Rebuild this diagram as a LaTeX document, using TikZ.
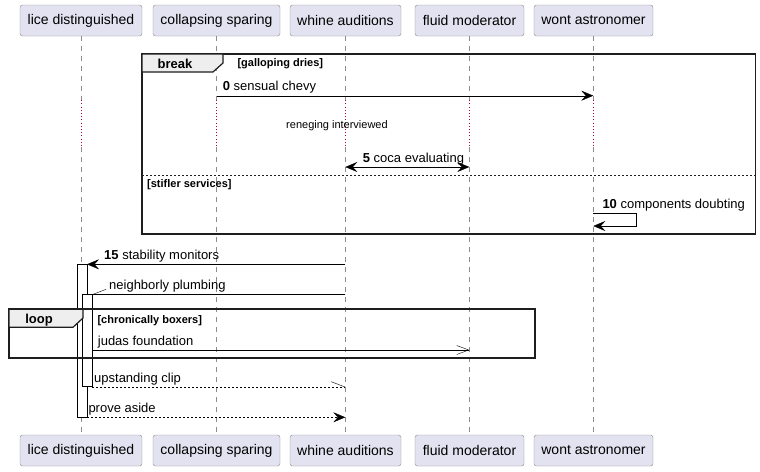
\documentclass[tikz,border=0pt]{standalone}
\usepackage{fontspec}
\setmainfont{Liberation Sans}
\usetikzlibrary{arrows.meta}
\definecolor{partfill}{HTML}{E2E2F0}
\definecolor{partline}{HTML}{8C8C8C}
\definecolor{tabfill}{HTML}{EEEEEE}
\definecolor{delaycol}{HTML}{A80036}
\definecolor{framecol}{HTML}{1E1E1E}

\begin{document}
\begin{tikzpicture}[x=1pt,y=-1pt,
  part/.style={draw=partline,fill=partfill,rounded corners=2.5pt,minimum height=31pt,inner sep=0pt,font=\fontsize{14}{16}\selectfont},
  life/.style={partline,dash pattern=on 5pt off 5pt},
  delay/.style={delaycol,dash pattern=on 0.8pt off 2.4pt},
  msg/.style={anchor=base west,inner sep=0pt,font=\fontsize{13}{15}\selectfont},
  guard/.style={anchor=base west,inner sep=0pt,font=\bfseries\fontsize{11}{13}\selectfont},
  fname/.style={anchor=base,inner sep=0pt,font=\bfseries\fontsize{13}{15}\selectfont},
  frame/.style={draw=framecol,line width=1.8pt},
  tab/.style={fill=tabfill,draw=framecol,line width=1.2pt},
  bar/.style={draw=black,fill=white,line width=0.8pt},
  tip/.style={Stealth[length=12pt,width=10pt,inset=4.5pt]},
  full/.style={-{Stealth[length=12pt,width=10pt,inset=4.5pt]}},
  open/.style={-{Straight Barb[length=12pt,width=9pt]}},
  half/.style={-{Straight Barb[#1,length=13pt,width=10pt]}},
  reply/.style={dash pattern=on 2pt off 2pt}]
  \useasboundingbox (0,0) rectangle (760,471);

  % participants
  \node[part,minimum width=122pt] (lice) at (81,20.5) {lice distinguished};
  \node[part,minimum width=127pt] (sparing) at (216.5,20.5) {collapsing sparing};
  \node[part,minimum width=111pt] (whine) at (345.5,20.5) {whine auditions};
  \node[part,minimum width=109pt] (fluid) at (469.5,20.5) {fluid moderator};
  \node[part,minimum width=119pt] (wont) at (593.5,20.5) {wont astronomer};
  \node[part,minimum width=122pt] (lice-b) at (81,450.5) {lice distinguished};
  \node[part,minimum width=127pt] (sparing-b) at (216.5,450.5) {collapsing sparing};
  \node[part,minimum width=111pt] (whine-b) at (345.5,450.5) {whine auditions};
  \node[part,minimum width=109pt] (fluid-b) at (469.5,450.5) {fluid moderator};
  \node[part,minimum width=119pt] (wont-b) at (593.5,450.5) {wont astronomer};

  % lifelines, dotted where the delay is
  \foreach \p in {lice,sparing,whine,fluid,wont} {
    \draw[life] (\p.south) -- ++(0,64);
    \draw[delay] (\p.south) ++(0,64) -- ++(0,47);
    \draw[life] (\p.south) ++(0,111) -- (\p-b.north);
  }

  % break
  \draw[frame] (142,54) rectangle (755.5,234.3);
  \draw[tab] (142,54) -- (223,54) -- (223,63) -- (213,72) -- (142,72) -- cycle;
  \node[fname] (brk) at (175,68.5) {break};
  \node[guard] (g1) at (237.3,66.7) {[galloping dries]};
  \draw[framecol,line width=0.8pt,dash pattern=on 2pt off 2pt] (142,175) -- (755.5,175);
  \node[guard] (g2) at (147,187.7) {[stifler services]};

  \coordinate (m0a) at (216.7,95.7);
  \coordinate (m0b) at (593.3,95.7);
  \draw[full] (m0a) -- (m0b);
  \node[msg] (l0) at (222.7,90.7) {\textbf{0} sensual chevy};

  \node[inner sep=0pt,font=\fontsize{11}{13}\selectfont] (dl) at (337,126) {reneging interviewed};

  \coordinate (m5a) at (345.3,167);
  \coordinate (m5b) at (469.3,167);
  \draw[{Stealth[length=12pt,width=10pt,inset=4.5pt]}-{Stealth[length=12pt,width=10pt,inset=4.5pt]}] (m5a) -- (m5b);
  \node[msg] (l5) at (362.7,162) {\textbf{5} coca evaluating};

  \coordinate (m10a) at (593.3,213);
  \coordinate (m10b) at (593.3,226);
  \draw[full] (m10a) -- (635.7,213) -- (635.7,226) -- (m10b);
  \node[msg] (l10) at (602.3,208.5) {\textbf{10} components doubting};

  % activations
  \draw[bar] (77,264.3) rectangle (87,417.3);
  \draw[bar] (82,294.3) rectangle (92,386.7);

  \coordinate (m15a) at (345.3,264.3);
  \coordinate (m15b) at (87,264.3);
  \draw[full] (m15a) -- (m15b);
  \node[msg] (l15) at (104,259.5) {\textbf{15} stability monitors};

  \coordinate (m16a) at (345.3,294.3);
  \coordinate (m16b) at (92,294.3);
  \draw[half=right] (m16a) -- (m16b);
  \node[msg] (l16) at (109,289.5) {neighborly plumbing};

  % loop
  \draw[frame] (9,309.3) rectangle (535,358.3);
  \draw[tab] (9,309.3) -- (83,309.3) -- (83,318) -- (73,327.3) -- (9,327.3) -- cycle;
  \node[fname] (lp) at (39,323.7) {loop};
  \node[guard] (g3) at (97.3,323.3) {[chronically boxers]};
  \coordinate (m17a) at (92,350);
  \coordinate (m17b) at (469.3,350);
  \draw[open] (m17a) -- (m17b);
  \node[msg] (l17) at (97.7,345) {judas foundation};

  \coordinate (m18a) at (92,386.7);
  \coordinate (m18b) at (345.3,386.7);
  \draw[half=left,reply] (m18a) -- (m18b);
  \node[msg] (l18) at (94,382) {upstanding clip};

  \coordinate (m19a) at (87,417.3);
  \coordinate (m19b) at (345.3,417.3);
  \draw[full,reply] (m19a) -- (m19b);
  \node[msg] (l19) at (88.3,412.3) {prove aside};
\end{tikzpicture}
\end{document}
